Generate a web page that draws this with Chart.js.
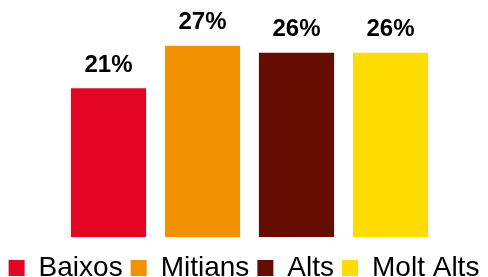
<!DOCTYPE html>
<html>
<head>
<meta charset="utf-8">
<script src="https://cdn.jsdelivr.net/npm/chart.js@4/dist/chart.umd.min.js"></script>
<style>
    html, body { margin: 0; padding: 0; background: #fff; overflow: hidden; }
    #wrap { width: 488px; height: 292px; position: relative; }
</style>
</head>
<body>
<div id="wrap"><canvas id="grafic"></canvas></div>
<script>
var categories = ["Baixos", "Mitians", "Alts", "Molt Alts"];
var valors = [21, 27, 26, 26];
var colors = ["#E30521", "#F39200", "#640D00", "#FFDC00"];

var fontFamily = "'Liberation Sans', Arial, Helvetica, sans-serif";

var etiquetesValor = {
    id: "etiquetesValor",
    afterDatasetsDraw: function (chart) {
        var ctx = chart.ctx;
        var meta = chart.getDatasetMeta(0);
        ctx.save();
        ctx.font = "bold 24px " + fontFamily;
        ctx.fillStyle = "#000";
        ctx.textAlign = "center";
        ctx.textBaseline = "alphabetic";
        meta.data.forEach(function (bar, i) {
            ctx.fillText(valors[i] + "%", bar.x, bar.y - 16.5);
        });
        ctx.restore();
    }
};

var ctx = document.getElementById("grafic");
new Chart(ctx, {
    type: "bar",
    data: {
        labels: categories,
        datasets: [{
            data: valors,
            backgroundColor: colors,
            borderWidth: 0,
            categoryPercentage: 1,
            barPercentage: 0.8
        }]
    },
    options: {
        responsive: true,
        maintainAspectRatio: false,
        animation: false,
        layout: { padding: { top: 24.5, left: 0, right: 0, bottom: 0 } },
        plugins: {
            tooltip: { enabled: false },
            legend: {
                position: "bottom",
                align: "center",
                labels: {
                    boxWidth: 16,
                    boxHeight: 16,
                    padding: 8,
                    color: "#111",
                    font: { family: fontFamily, size: 28 },
                    generateLabels: function () {
                        return categories.map(function (c, i) {
                            return {
                                text: c,
                                fillStyle: colors[i],
                                strokeStyle: colors[i],
                                lineWidth: 0,
                                hidden: false,
                                index: i
                            };
                        });
                    }
                }
            }
        },
        scales: {
            x: {
                display: true,
                ticks: { display: false },
                grid: { display: true, drawOnChartArea: false, drawTicks: true, tickLength: 9, color: "rgba(0,0,0,0)" },
                border: { display: false }
            },
            y: {
                type: "linear",
                position: "left",
                min: 0,
                max: 30,
                ticks: { display: false },
                grid: { display: false },
                border: { display: false },
                afterFit: function (scale) { scale.width = 61.5; }
            },
            y2: {
                type: "linear",
                position: "right",
                min: 0,
                max: 30,
                ticks: { display: false },
                grid: { display: false },
                border: { display: false },
                afterFit: function (scale) { scale.width = 50.5; }
            }
        }
    },
    plugins: [etiquetesValor]
});
</script>
</body>
</html>
